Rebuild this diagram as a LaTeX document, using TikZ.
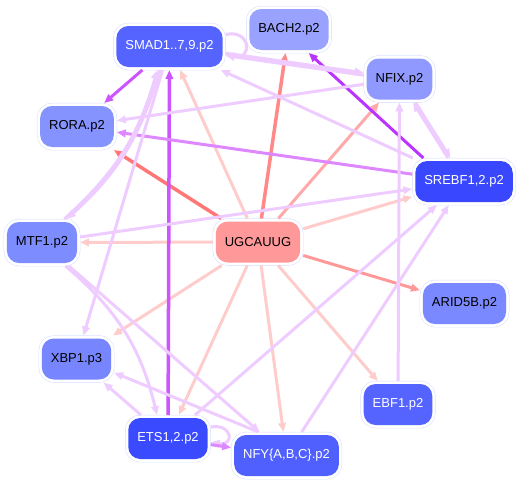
\documentclass[tikz,border=0pt]{standalone}
\usepackage{fontspec}
\setsansfont{Liberation Sans}
\usepackage{xcolor}
\definecolor{tfring}{HTML}{D6DCFF}
\definecolor{ugcfill}{HTML}{FF9999}
\definecolor{smadfill}{HTML}{5564FF}
\definecolor{bachfill}{HTML}{99A3FF}
\definecolor{nfixfill}{HTML}{9099FF}
\definecolor{rorafill}{HTML}{8593FF}
\definecolor{srebffill}{HTML}{3948FF}
\definecolor{mtffill}{HTML}{7D8CFF}
\definecolor{aridfill}{HTML}{7A89FF}
\definecolor{xbpfill}{HTML}{7786FF}
\definecolor{ebffill}{HTML}{5564FF}
\definecolor{etsfill}{HTML}{394AFF}
\definecolor{nfyfill}{HTML}{5060FF}
\definecolor{linklav}{HTML}{EECCFF}
\definecolor{linkmid}{HTML}{DD88FF}
\definecolor{linkdeep}{HTML}{CC55FF}
\definecolor{linkdark}{HTML}{BB33FF}
\definecolor{mirpale}{HTML}{FFCCCC}
\definecolor{mirsoft}{HTML}{FFAAAA}
\definecolor{mirmid}{HTML}{FF9999}
\definecolor{mirhot}{HTML}{FF8888}
\definecolor{mirred}{HTML}{FF7777}
\usetikzlibrary{arrows.meta}
\tikzset{
  tfbox/.style={rounded corners=12pt,inner xsep=9pt,minimum height=41pt,outer sep=3pt,
    font=\sffamily\fontsize{13}{15}\selectfont,
    preaction={draw=tfring,line width=6.5pt},preaction={draw=white,line width=5.5pt}},
  regflow/.style={-{Triangle[length=9pt,width=7.5pt]},line width=3pt,linklav},
  mirflow/.style={regflow,mirpale},
}

\begin{document}
\begin{tikzpicture}[x=1pt,y=-1pt]
\useasboundingbox (0,0) rectangle (521,485);
% nodes
\node[tfbox,fill=smadfill,text=white](smad) at (169.5,46.5){SMAD1..7,9.p2};
\node[tfbox,fill=bachfill](bach) at (289,29.5){BACH2.p2};
\node[tfbox,fill=nfixfill](nfix) at (399.5,79){NFIX.p2};
\node[tfbox,fill=rorafill](rora) at (77,126.5){RORA.p2};
\node[tfbox,fill=srebffill,text=white](srebf) at (464,181.5){SREBF1,2.p2};
\node[tfbox,fill=mtffill](mtf) at (42,242.5){MTF1.p2};
\node[tfbox,fill=ugcfill](ugc) at (258,242){UGCAUUG};
\node[tfbox,fill=aridfill](arid) at (464.5,303.5){ARID5B.p2};
\node[tfbox,fill=xbpfill](xbp) at (76.5,359){XBP1.p3};
\node[tfbox,fill=ebffill,text=white](ebf) at (398,404.5){EBF1.p2};
\node[tfbox,fill=etsfill,text=white](ets) at (168,438.5){ETS1,2.p2};
\node[tfbox,fill=nfyfill,text=white](nfy) at (286.5,455.5){NFY\{A,B,C\}.p2};
% microRNA targets
\draw[mirflow,mirred,line width=3.5pt](ugc)--(rora);
\draw[mirflow,mirhot,line width=3.5pt](ugc)--(bach);
\draw[mirflow](ugc)--(smad);
\draw[mirflow,mirsoft](ugc)--(nfix);
\draw[mirflow](ugc)--(srebf);
\draw[mirflow](ugc)--(mtf);
\draw[mirflow,mirmid](ugc)--(arid);
\draw[mirflow](ugc)--(xbp);
\draw[mirflow](ugc)--(ets);
\draw[mirflow](ugc)--(nfy);
\draw[mirflow](ugc)--(ebf);
% factor to factor
\draw[regflow,linkdeep](smad)--(rora);
\draw[regflow,linkdeep,line width=3.5pt](ets)--(smad);
\draw[regflow,linkdark](srebf.150)--(bach.-50);
\draw[regflow,linkmid](srebf)--(rora);
\draw[regflow](nfix)--(rora);
\draw[regflow,transform canvas={yshift=1.2pt}](smad)--(nfix);
\draw[regflow,transform canvas={yshift=-1.2pt}](nfix)--(smad);
\draw[regflow](smad.12) .. controls +(25,-6) and +(28,6) .. (smad.-8);
\draw[regflow](srebf)--(smad);
\draw[regflow,transform canvas={xshift=1.2pt}](nfix)--(srebf);
\draw[regflow,transform canvas={xshift=-1.2pt}](srebf)--(nfix);
\draw[regflow](ebf)--(nfix);
\draw[regflow](mtf)--(srebf);
\draw[regflow,transform canvas={xshift=1.2pt}](smad.-115) to[bend left=16] (mtf.45);
\draw[regflow,transform canvas={xshift=-1.2pt}](mtf.45) to[bend right=16] (smad.-115);
\draw[regflow](smad)--(xbp);
\draw[regflow](mtf.-45) to[bend left=18] (ets.115);
\draw[regflow](mtf)--(nfy);
\draw[regflow](ets)--(xbp);
\draw[regflow](nfy.140)--(xbp.-20);
\draw[regflow](ets)--(srebf);
\draw[regflow](nfy)--(srebf);
\draw[regflow](ets.15) .. controls +(22,-4) and +(24,4) .. (ets.-5);
\draw[regflow,linkmid](ets)--(nfy);
\end{tikzpicture}
\end{document}
